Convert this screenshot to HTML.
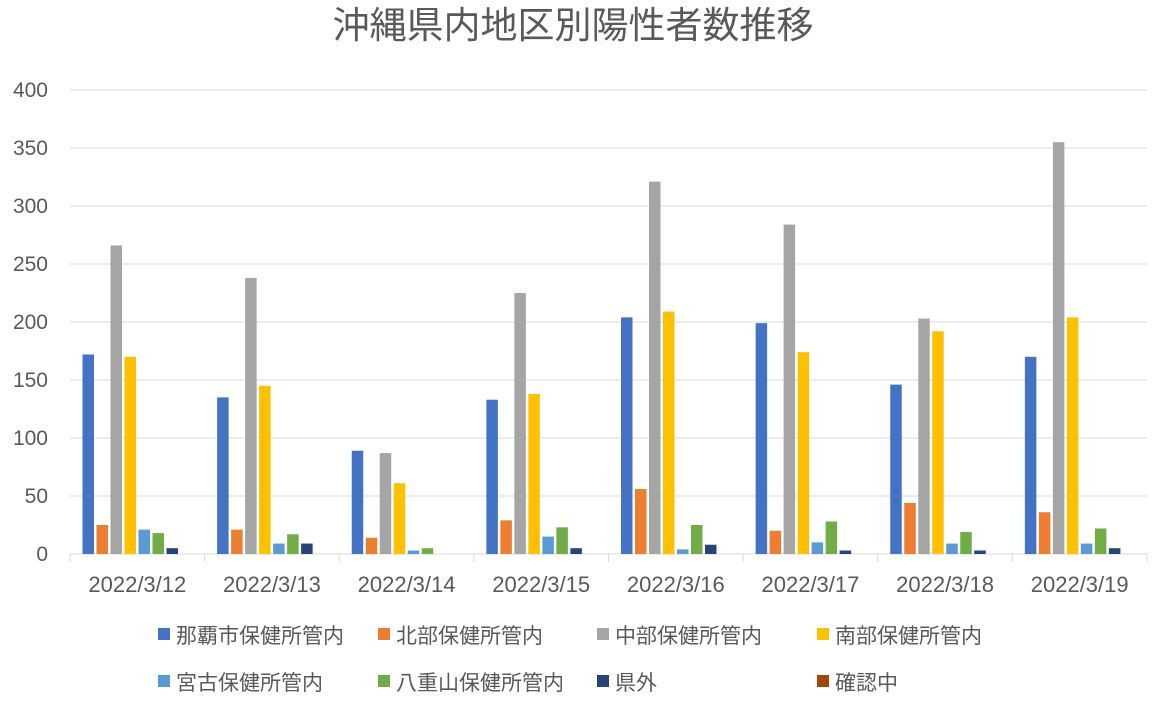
<!DOCTYPE html>
<html><head><meta charset="utf-8"><style>
body{margin:0;background:#fff;}
svg text{font-family:"Liberation Sans","Noto Sans CJK JP",sans-serif;fill:#595959;}
</style></head><body>
<svg width="1154" height="699" xmlns="http://www.w3.org/2000/svg">
<rect width="1154" height="699" fill="#fff"/>
<text x="573" y="38" font-size="37" text-anchor="middle">沖縄県内地区別陽性者数推移</text>
<g id="grid" stroke="#d9d9d9" stroke-width="1"></g>
<g id="bars"></g>
<g id="labels"></g>
<g font-size="21">
<rect x="158" y="628" width="12" height="12" fill="#4472c4"/><text x="176" y="643">那覇市保健所管内</text>
<rect x="378" y="628" width="12" height="12" fill="#ed7d31"/><text x="396" y="643">北部保健所管内</text>
<rect x="597" y="628" width="12" height="12" fill="#a5a5a5"/><text x="615" y="643">中部保健所管内</text>
<rect x="817" y="628" width="12" height="12" fill="#ffc000"/><text x="835" y="643">南部保健所管内</text>
<rect x="158" y="675" width="12" height="12" fill="#5b9bd5"/><text x="176" y="690">宮古保健所管内</text>
<rect x="378" y="675" width="12" height="12" fill="#70ad47"/><text x="396" y="690">八重山保健所管内</text>
<rect x="597" y="675" width="12" height="12" fill="#264478"/><text x="615" y="690">県外</text>
<rect x="817" y="675" width="12" height="12" fill="#9e480e"/><text x="835" y="690">確認中</text>
</g>
</svg>
<script>
const ns="http://www.w3.org/2000/svg";
function el(p,t,a,tx){const e=document.createElementNS(ns,t);for(const k in a)e.setAttribute(k,a[k]);if(tx!==undefined)e.textContent=tx;p.appendChild(e);return e;}
const g=document.getElementById('grid'),b=document.getElementById('bars'),l=document.getElementById('labels');
const x0=70,x1=1147,y0=554,sc=1.16,gw=(x1-x0)/8;
for(let v=0;v<=400;v+=50){const y=y0-v*sc;if(v>0)el(g,'line',{x1:x0,x2:x1,y1:y,y2:y});
el(l,'text',{x:48,y:y+7,'text-anchor':'end','font-size':21},String(v));}
el(g,'line',{x1:x0,x2:x1,y1:y0,y2:y0});
for(let i=0;i<=8;i++){const x=x0+i*gw;el(g,'line',{x1:x,x2:x,y1:y0,y2:y0+8});}
const cols=["#4472c4","#ed7d31","#a5a5a5","#ffc000","#5b9bd5","#70ad47","#264478","#9e480e"];
const d=[[172,25,266,170,21,18,5,0],[135,21,238,145,9,17,9,0],[89,14,87,61,3,5,0,0],[133,29,225,138,15,23,5,0],[204,56,321,209,4,25,8,0],[199,20,284,174,10,28,3,0],[146,44,203,192,9,19,3,0],[170,36,355,204,9,22,5,0]];
const dates=["2022/3/12","2022/3/13","2022/3/14","2022/3/15","2022/3/16","2022/3/17","2022/3/18","2022/3/19"];
d.forEach((r,i)=>{const gx=x0+i*gw;r.forEach((v,j)=>{if(v>0){const h=v*sc;el(b,'rect',{x:gx+12.5+j*14,y:y0-h,width:11.5,height:h,fill:cols[j]});}});
el(l,'text',{x:gx+gw/2,y:592,'text-anchor':'middle','font-size':22},dates[i]);});
</script>
</body></html>
